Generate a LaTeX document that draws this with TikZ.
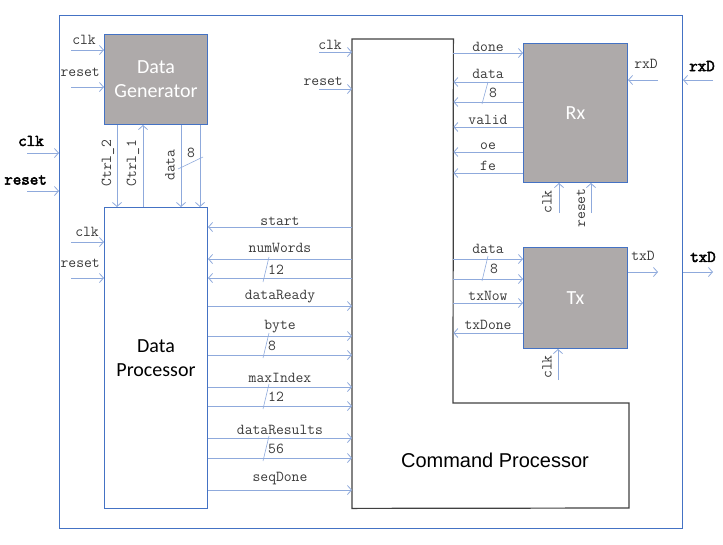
\documentclass[tikz,border=0pt]{standalone}
\usepackage{fontspec}
\setmainfont{Carlito}
\setsansfont{Liberation Sans}
\setmonofont{Latin Modern Mono}[AutoFakeBold=3]
\usetikzlibrary{arrows.meta}
\definecolor{boxblue}{HTML}{4472C4}
\definecolor{sigblue}{HTML}{8FAADC}
\definecolor{boxgray}{HTML}{AEAAAA}
\definecolor{txtgray}{HTML}{3A3A3A}
\begin{document}
\begin{tikzpicture}[x=1pt, y=-1pt,
    sig/.style={draw=sigblue, line width=0.8pt, -{Straight Barb[length=4pt,width=9pt]}},
    bus/.style={draw=sigblue, line width=0.6pt},
    lbl/.style={font=\ttfamily\fontsize{15.2}{15.2}\selectfont, text=txtgray, inner sep=0pt},
    toplbl/.style={font=\ttfamily\bfseries\fontsize{16.5}{16.5}\selectfont, inner sep=0pt},
    block/.style={draw=boxblue, line width=1pt, fill=boxgray, text=white, anchor=north west,
        font=\fontsize{20}{24}\selectfont, align=center, inner sep=0pt},
    wblock/.style={block, fill=white, text=black}]
    \useasboundingbox (0,0) rectangle (723,544);

    % outer boundary
    \node[draw=boxblue, line width=1pt, anchor=north west, minimum width=623pt, minimum height=513pt, inner sep=0pt] (top) at (59,15) {};

    % blocks
    \node[block, minimum width=103pt, minimum height=90pt] (dg) at (104,34) {Data\\Generator};
    \node[wblock, minimum width=103pt, minimum height=301pt] (dp) at (104,207) {Data\\Processor};
    \node[block, minimum width=104pt, minimum height=139pt] (rx) at (523,43) {Rx};
    \node[block, minimum width=104pt, minimum height=101pt] (tx) at (523,247) {Tx};
    \node[anchor=north west, minimum width=101pt, minimum height=469pt, inner sep=0pt] (cp) at (352,39) {};
    \draw[draw=black!75, line width=1.2pt] (cp.north west) -- (cp.north east) -- (453,403) -- (629,403) -- (629,508) -- (cp.south west) -- cycle;
    \node[font=\sffamily\fontsize{20}{24}\selectfont] (cplabel) at (495,460) {Command Processor};

    % free ends
    \coordinate (clkin) at (27,153);
    \coordinate (rstin) at (27,191);
    \coordinate (rxdin) at (713,80);
    \coordinate (txdout) at (713,272);
    \coordinate (rxdint) at (658,80);
    \coordinate (txdint) at (658,272);
    \coordinate (rxclk) at (559,213);
    \coordinate (rxrst) at (591,213);
    \coordinate (txclk) at (558,380);

    % top level ports
    \draw[sig] (clkin) -- (top.west |- clkin);
    \draw[sig] (rstin) -- (top.west |- rstin);
    \draw[sig] (rxdin) -- (top.east |- rxdin);
    \draw[sig] (top.east |- txdout) -- (txdout);
    \node[toplbl] (clklbl) at (31,141) {clk};
    \node[toplbl, anchor=east] (rstlbl) at (47,180) {reset};
    \node[toplbl] (rxdlbl) at (702,66) {rxD};
    \node[toplbl] (txdlbl) at (703,257) {txD};

    % clk / reset into blocks
    \foreach \blk/\yc/\yr in {dg/50/87, dp/242/278, cp/52/89}{
        \draw[sig] (\blk.west |- 0,\yc) ++(-33,0) -- (\blk.west |- 0,\yc);
        \draw[sig] (\blk.west |- 0,\yr) ++(-33,0) -- (\blk.west |- 0,\yr);
    }
    \node[lbl, anchor=east] at (96,40) {clk};
    \node[lbl, anchor=east] at (100,72) {reset};
    \node[lbl, anchor=east] at (99,232) {clk};
    \node[lbl, anchor=east] at (100,263) {reset};
    \node[lbl, anchor=east] at (342,45) {clk};
    \node[lbl, anchor=east] at (343,81) {reset};

    % data generator <-> data processor
    \draw[sig] (117,0 |- dg.south) -- (117,0 |- dp.north);
    \draw[sig] (143,0 |- dp.north) -- (143,0 |- dg.south);
    \draw[sig] (181,0 |- dg.south) -- (181,0 |- dp.north);
    \draw[sig] (200,0 |- dg.south) -- (200,0 |- dp.north);
    \draw[bus] (178,169) -- (203,157);
    \node[lbl, rotate=90] at (108,163) {Ctrl\_2};
    \node[lbl, rotate=90] at (133,163) {Ctrl\_1};
    \node[lbl, rotate=90] at (170,165) {data};
    \node[lbl] at (191,153) {8};

    % data processor <-> command processor
    \foreach \y in {227,259,278}
        \draw[sig] (cp.west |- 0,\y) -- (dp.east |- 0,\y);
    \foreach \y in {306,336,355,387,406,438,458,490}
        \draw[sig] (dp.east |- 0,\y) -- (cp.west |- 0,\y);
    \foreach \y/\t in {221/start,248/numWords,297/dataReady,327/byte,378/maxIndex,430/dataResults,479/seqDone}
        \node[lbl] at (280,\y) {\t};
    \foreach \y/\t in {270/12,346/8,397/12,449/56}{
        \node[lbl, anchor=west] at (268,\y) {\t};
        \draw[bus] (263,\y+12) -- (269,\y-13);
    }

    % command processor <-> rx
    \draw[sig] (cp.east |- 0,53) -- (rx.west |- 0,53);
    \foreach \y in {82,102,127,152,173}
        \draw[sig] (rx.west |- 0,\y) -- (cp.east |- 0,\y);
    \foreach \y/\t in {47/done,74/data,120/valid,146/oe,166/fe}
        \node[lbl] at (488,\y) {\t};
    \node[lbl] at (493,93) {8};
    \draw[bus] (482,104) -- (488,82);

    % rx ports
    \draw[sig] (rxdint) -- (rx.east |- rxdint);
    \draw[sig] (rxclk) -- (rxclk |- rx.south);
    \draw[sig] (rxrst) -- (rxrst |- rx.south);
    \node[lbl] at (646,64) {rxD};
    \node[lbl, rotate=90] at (547,202) {clk};
    \node[lbl, rotate=90] at (581,208) {reset};

    % command processor <-> tx
    \foreach \y in {259,279,303}
        \draw[sig] (cp.east |- 0,\y) -- (tx.west |- 0,\y);
    \draw[sig] (tx.west |- 0,333) -- (cp.east |- 0,333);
    \foreach \y/\t in {249/data,296/txNow,325/txDone}
        \node[lbl] at (488,\y) {\t};
    \node[lbl] at (494,269) {8};
    \draw[bus] (482,281) -- (488,256);

    % tx ports
    \draw[sig] (tx.east |- txdint) -- (txdint);
    \draw[sig] (txclk) -- (txclk |- tx.south);
    \node[lbl] at (643,256) {txD};
    \node[lbl, rotate=90] at (547,367) {clk};
\end{tikzpicture}
\end{document}
